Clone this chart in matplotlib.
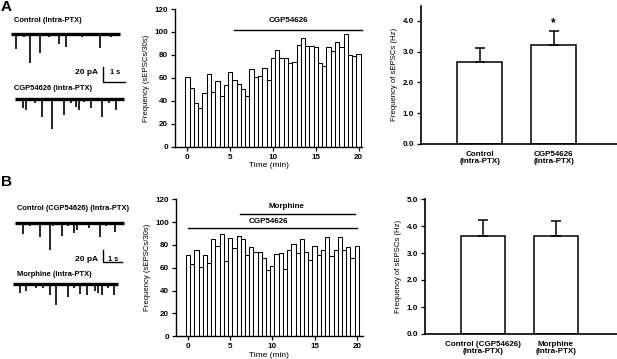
import numpy as np
import matplotlib
matplotlib.use('Agg')
import matplotlib.pyplot as plt

plt.rcParams['font.family'] = ['Liberation Sans', 'DejaVu Sans']
plt.rcParams['font.weight'] = 'bold'
plt.rcParams['font.size'] = 5.8

# ── data ─────────────────────────────────────────────────────
time_min = np.arange(0, 20.5, 0.5)   # 30 s bins
freq_a = [61, 51, 38, 34, 47, 63, 48, 57, 44, 54, 65, 58, 55, 50, 44, 68, 61, 62, 69, 58,
          77, 84, 77, 77, 73, 74, 89, 95, 88, 88, 87, 73, 70, 87, 83, 91, 87, 98, 80, 79, 81]
freq_b = [71, 63, 76, 61, 71, 64, 85, 79, 90, 66, 86, 77, 88, 85, 71, 78, 74, 74, 69, 58,
          62, 72, 73, 59, 76, 81, 73, 85, 74, 67, 79, 71, 76, 87, 70, 76, 87, 76, 78, 69, 79]

groups_a = ['Control\n(Intra-PTX)', 'CGP54626\n(Intra-PTX)']
mean_a = [2.65, 3.23]
sem_a = [0.47, 0.45]
groups_b = ['Control (CGP54626)\n(Intra-PTX)', 'Morphine\n(Intra-PTX)']
mean_b = [3.62, 3.62]
sem_b = [0.60, 0.58]

# example sEPSC traces: event times (s) and amplitudes (pA)
ctl_a_t = [0.22, 0.85, 1.30, 2.17, 2.47, 3.99, 0.6, 1.7, 3.2, 4.5]
ctl_a_amp = [20, 38, 25, 13, 17, 19, 4, 4, 4, 4]
cgp_a_t = [0.37, 0.49, 1.20, 1.65, 2.20, 2.74, 2.88, 3.39, 3.89, 4.53, 0.9, 2.5, 3.1, 4.2]
cgp_a_amp = [12, 15, 24, 40, 21, 10, 15, 12, 24, 15, 5, 5, 4, 5]
ctl_b_t = [0.41, 1.32, 1.84, 2.46, 3.11, 3.28, 3.91, 4.47, 5.26, 0.8, 2.0, 2.8, 4.8]
ctl_b_amp = [20, 25, 47, 23, 18, 12, 9, 25, 16, 5, 5, 5, 5]
mor_b_t = [0.37, 0.68, 1.95, 2.26, 2.91, 3.53, 3.91, 4.32, 4.49, 4.67, 5.32, 1.2, 1.6, 3.2, 5.0]
mor_b_amp = [15, 12, 19, 36, 22, 17, 19, 12, 15, 18, 18, 6, 6, 6, 6]

W, H = 617, 359
fig = plt.figure(figsize=(W / 100, H / 100), dpi=100)


def px_axes(left, top, right, bottom):
    return fig.add_axes([left / W, 1 - bottom / H, (right - left) / W, (bottom - top) / H])


def style(ax, lw=1.0):
    for s in ['top', 'right']:
        ax.spines[s].set_visible(False)
    for s in ['left', 'bottom']:
        ax.spines[s].set_linewidth(lw)
    ax.tick_params(direction='out', length=3, width=0.9, pad=2, labelsize=5.8)


# ── trace panels ─────────────────────────────────────────────
def trace_panel(top, sx, sy, traces, labels, letter, scale_xy):
    ax = px_axes(0, top, 140, top + 175)
    ax.set_xlim(0, 140 / sx)
    ax.set_ylim(-175 / sy, 0)
    ax.axis('off')
    ax.text(0.5 / sx, -7 / sy, letter, fontsize=11, va='center', ha='left')
    for (x0, x1, base, ts, amps), (lx, ly, txt) in zip(traces, labels):
        ax.plot([x0 / sx, x1 / sx], [-base / sy, -base / sy], color='black', lw=2.4,
                solid_capstyle='butt')
        ax.vlines(x0 / sx + np.array(ts), -base / sy, -base / sy - np.array(amps),
                  color='black', lw=1.2)
        ax.text(lx / sx, -ly / sy, txt, fontsize=5.4, va='center', ha='left')
    bx, by, tx = scale_xy
    ax.plot([bx / sx, bx / sx, bx / sx + 1], [-by / sy + 20, -by / sy, -by / sy],
            color='black', lw=1.0)
    ax.text((bx - 5) / sx, -tx / sy, '20 pA', fontsize=6, ha='right', va='center')
    ax.text(bx / sx + 0.55, -tx / sy, '1 s', fontsize=5.3, ha='center', va='center')


trace_panel(0, 22.3, 0.75,
            [(11, 120, 34, ctl_a_t, ctl_a_amp), (15, 124, 99, cgp_a_t, cgp_a_amp)],
            [(14, 21, 'Control (Intra-PTX)'), (14, 89, 'CGP54626 (Intra-PTX)')],
            'A', (102.7, 81.5, 72))
trace_panel(175, 19.0, 0.58,
            [(15, 124, 47.7, ctl_b_t, ctl_b_amp), (13, 118, 109.3, mor_b_t, mor_b_amp)],
            [(16.7, 33.3, 'Control (CGP54626) (Intra-PTX)'), (16.7, 99, 'Morphine (Intra-PTX)')],
            'B', (102.7, 86.7, 84))


# ── time-course histograms ───────────────────────────────────
def histo(box, vals, xlim):
    ax = px_axes(*box)
    ax.bar(time_min, vals, width=0.5, facecolor='white', edgecolor='black', linewidth=0.75)
    ax.set_xlim(*xlim)
    ax.set_ylim(0, 120)
    ax.set_yticks(range(0, 121, 20))
    ax.set_xticks([0, 5, 10, 15, 20])
    ax.set_xlabel('Time (min)', fontsize=6, labelpad=1)
    ax.set_ylabel('Frequency (sEPSCs/30s)', fontsize=5.6, labelpad=3)
    style(ax)
    return ax


ax = histo((175, 9, 362, 146.7), freq_a, (-1.45, 20.4))
ax.plot([5.45, 20.4], [102, 102], color='black', lw=1.0, clip_on=False)
ax.text(11.75, 110, 'CGP54626', ha='center', va='center', fontsize=5.8)

ax = histo((176, 199.3, 362.7, 336.3), freq_b, (-1.42, 20.7))
ax.plot([6.2, 19.8], [107.4, 107.4], color='black', lw=1.0)
ax.text(11.7, 113.5, 'Morphine', ha='center', va='center', fontsize=5.8)
ax.plot([0, 20.05], [94.6, 94.6], color='black', lw=1.0)
ax.text(9.5, 100.4, 'CGP54626', ha='center', va='center', fontsize=5.8)


# ── summary bar charts ───────────────────────────────────────
def summary(box, means, sems, labels, ymax, xlim, width):
    ax = px_axes(*box)
    x = [1, 2]
    ax.bar(x, means, width=width, facecolor='white', edgecolor='black', linewidth=1.1)
    ax.errorbar(x, means, yerr=[[0, 0], sems], fmt='none', ecolor='black',
                elinewidth=1.1, capsize=3.5, capthick=1.1)
    ax.set_xlim(*xlim)
    ax.set_ylim(0, ymax)
    ax.set_xticks(x)
    ax.set_xticklabels(labels, fontsize=5.8, linespacing=1.1)
    ax.set_ylabel('Frequency of sEPSCs (Hz)', fontsize=5.6, labelpad=3)
    style(ax, 1.2)
    ax.tick_params(axis='x', length=0, pad=5)
    return ax


ax = summary((421, 5.6, 617, 144), mean_a, sem_a, groups_a, 4.5, (0.2, 2.86), 0.61)
ax.set_yticks(np.arange(0, 4.01, 1.0))
ax.set_yticklabels(['%.1f' % v for v in np.arange(0, 4.01, 1.0)])
ax.text(2, mean_a[1] + sem_a[1] + 0.04, '*', ha='center', va='bottom', fontsize=8.5)

ax = summary((425, 199, 616.7, 334), mean_b, sem_b, groups_b, 5.0, (0.2, 2.84), 0.605)
ax.set_yticks(np.arange(0, 5.01, 1.0))
ax.set_yticklabels(['%.1f' % v for v in np.arange(0, 5.01, 1.0)])

fig.savefig('out.png', dpi=100)
